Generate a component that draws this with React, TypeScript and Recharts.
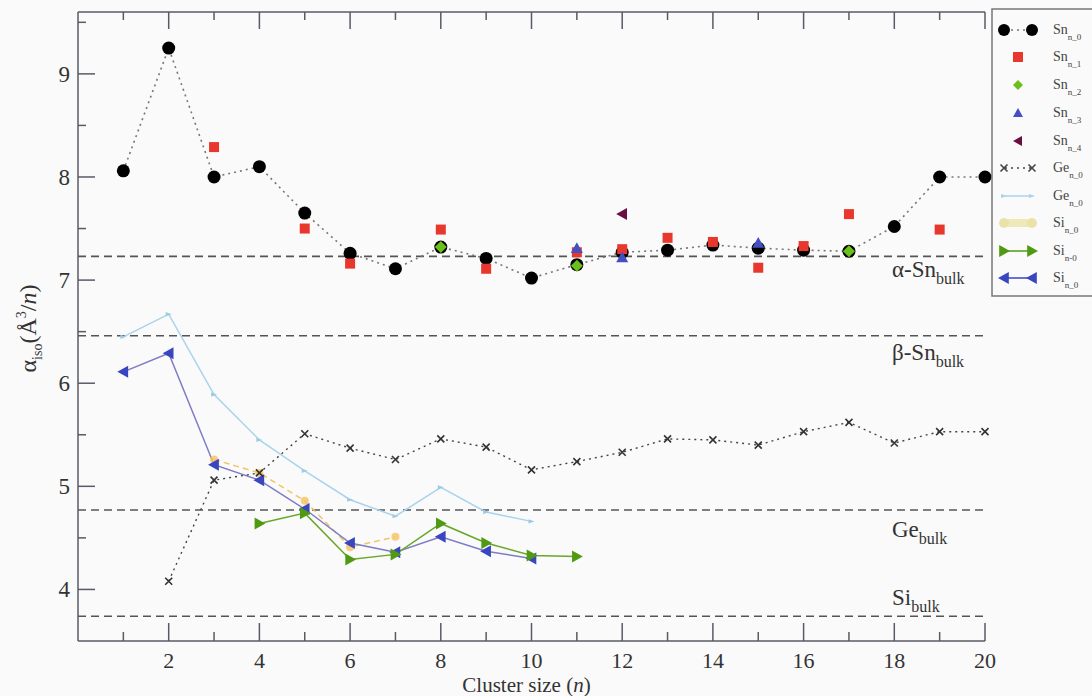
import React from "react";
import { ComposedChart, Line, XAxis, YAxis, ReferenceLine } from "recharts";

// cluster size n
const sizes = [1, 2, 3, 4, 5, 6, 7, 8, 9, 10, 11, 12, 13, 14, 15, 16, 17, 18, 19, 20];

// Sn isomers (polarizability per atom)
const snN0 = [8.06, 9.25, 8.0, 8.1, 7.65, 7.26, 7.11, 7.32, 7.21, 7.02, 7.15, 7.27, 7.29, 7.34, 7.31, 7.29, 7.28, 7.52, 8.0, 8.0];
const snN1 = [null, null, 8.29, null, 7.5, 7.16, null, 7.49, 7.11, null, 7.27, 7.3, 7.41, 7.37, 7.12, 7.33, 7.64, null, 7.49, null];
const snN2 = [null, null, null, null, null, null, null, 7.32, null, null, 7.14, null, null, null, null, null, 7.28, null, null, null];
const snN3 = [null, null, null, null, null, null, null, null, null, null, 7.31, 7.22, null, null, 7.36, null, null, null, null, null];
const snN4 = [null, null, null, null, null, null, null, null, null, null, null, 7.64, null, null, null, null, null, null, null, null];

// Ge clusters
const geCross = [null, 4.08, 5.06, 5.13, 5.51, 5.37, 5.26, 5.46, 5.38, 5.16, 5.24, 5.33, 5.46, 5.45, 5.4, 5.53, 5.62, 5.42, 5.53, 5.53];
const geLight = [6.45, 6.67, 5.89, 5.45, 5.15, 4.87, 4.71, 4.99, 4.75, 4.66, null, null, null, null, null, null, null, null, null, null];

// Si clusters
const siYellow = [null, null, 5.26, 5.13, 4.86, 4.41, 4.51, null, null, null, null, null, null, null, null, null, null, null, null, null];
const siGreen = [null, null, null, 4.64, 4.74, 4.29, 4.34, 4.64, 4.45, 4.33, 4.32, null, null, null, null, null, null, null, null, null];
const siBlue = [6.11, 6.29, 5.21, 5.06, 4.78, 4.45, 4.36, 4.51, 4.37, 4.3, null, null, null, null, null, null, null, null, null, null];

// bulk reference values
const bulkNames = ["α-Sn", "β-Sn", "Ge", "Si"];
const bulkValues = [7.23, 6.46, 4.77, 3.74];

const xTicks = [1, 2, 3, 4, 5, 6, 7, 8, 9, 10, 11, 12, 13, 14, 15, 16, 17, 18, 19, 20];
const yTicks = [3.5, 4, 4.5, 5, 5.5, 6, 6.5, 7, 7.5, 8, 8.5, 9, 9.5];

const table = sizes.map((n, i) => ({
  n,
  sn0: snN0[i],
  sn1: snN1[i],
  sn2: snN2[i],
  sn3: snN3[i],
  sn4: snN4[i],
  geX: geCross[i],
  geL: geLight[i],
  siY: siYellow[i],
  siG: siGreen[i],
  siB: siBlue[i],
}));

const FONT = "'Liberation Serif', 'DejaVu Serif', serif";
const AXIS = "#5a5a66";

function Marker({ kind, x, y, fill, s }: any) {
  switch (kind) {
    case "circle":
      return <circle cx={x} cy={y} r={s} fill={fill} />;
    case "square":
      return <rect x={x - s} y={y - s} width={2 * s} height={2 * s} fill={fill} />;
    case "diamond":
      return <polygon points={`${x},${y - s} ${x + s},${y} ${x},${y + s} ${x - s},${y}`} fill={fill} />;
    case "up":
      return <polygon points={`${x},${y - s} ${x + s},${y + s * 0.8} ${x - s},${y + s * 0.8}`} fill={fill} />;
    case "left":
      return <polygon points={`${x - s},${y} ${x + s * 0.8},${y - s} ${x + s * 0.8},${y + s}`} fill={fill} />;
    case "right":
      return <polygon points={`${x + s},${y} ${x - s * 0.8},${y - s} ${x - s * 0.8},${y + s}`} fill={fill} />;
    case "cross":
      return (
        <path d={`M${x - s},${y - s}L${x + s},${y + s}M${x - s},${y + s}L${x + s},${y - s}`} stroke={fill} strokeWidth={1.6} />
      );
    case "arrow":
      return <polygon points={`${x + s},${y} ${x - s},${y - s * 0.7} ${x - s},${y + s * 0.7}`} fill={fill} />;
    default:
      return null;
  }
}

const dotOf = (kind: string, fill: string, s: number, opacity = 1) => (p: any) => {
  const { cx, cy, value, index } = p;
  if (value == null || cx == null || cy == null) return <g key={`e${index}`} />;
  return (
    <g key={`d${index}`} opacity={opacity}>
      <Marker kind={kind} x={cx} y={cy} fill={fill} s={s} />
    </g>
  );
};

const XTickBottom = (p: any) => {
  const { x, y, payload } = p;
  const major = payload.value % 2 === 0;
  return (
    <g>
      <line x1={x} x2={x} y1={y} y2={y - (major ? 18 : 9)} stroke={AXIS} strokeWidth={1.5} />
      {major && (
        <text x={x} y={y + 27} textAnchor="middle" fontFamily={FONT} fontSize={22} fill="#333">
          {payload.value}
        </text>
      )}
    </g>
  );
};

const XTickTop = (p: any) => {
  const { x, y, payload } = p;
  const major = payload.value % 2 === 0;
  return <line x1={x} x2={x} y1={y} y2={y + (major ? 17 : 8)} stroke={AXIS} strokeWidth={1.5} />;
};

const YTickLeft = (p: any) => {
  const { x, y, payload } = p;
  const major = Number.isInteger(payload.value);
  if (payload.value < 3.9) return <g />;
  return (
    <g>
      <line x1={x} x2={x + (major ? 17 : 8)} y1={y} y2={y} stroke={AXIS} strokeWidth={1.5} />
      {major && (
        <text x={x - 8} y={y + 8} textAnchor="end" fontFamily={FONT} fontSize={23} fill="#333">
          {payload.value}
        </text>
      )}
    </g>
  );
};

const YTickRight = (p: any) => {
  const { x, y, payload } = p;
  const major = Number.isInteger(payload.value);
  if (payload.value < 3.9) return <g />;
  return <line x1={x} x2={x - (major ? 14 : 8)} y1={y} y2={y} stroke={AXIS} strokeWidth={1.5} />;
};

const bulkOffsets = [21, 24, 27, -11];

const BulkLabel = ({ viewBox, idx }: any) => {
  if (!viewBox) return null;
  const x = viewBox.x + viewBox.width - 93;
  const y = viewBox.y + bulkOffsets[idx];
  return (
    <text x={x} y={y} fontFamily={FONT} fontSize={23} fill="#333">
      {bulkNames[idx]}
      <tspan fontSize={16} dy={7}>bulk</tspan>
    </text>
  );
};

const YTitle = ({ viewBox }: any) => {
  if (!viewBox) return null;
  const cx = viewBox.x + 36;
  const cy = viewBox.y + viewBox.height / 2 + 2;
  return (
    <text
      x={cx}
      y={cy}
      transform={`rotate(-90 ${cx} ${cy})`}
      textAnchor="middle"
      fontFamily={FONT}
      fontSize={24}
      fill="#333"
    >
      α
      <tspan fontSize={14} dy={6}>iso</tspan>
      <tspan dy={-6}>(Å</tspan>
      <tspan fontSize={14} dy={-10}>3</tspan>
      <tspan dy={10}>/</tspan>
      <tspan fontStyle="italic">n</tspan>
      <tspan>)</tspan>
    </text>
  );
};

const XTitle = ({ viewBox }: any) => {
  if (!viewBox) return null;
  return (
    <text
      x={viewBox.x + viewBox.width / 2 - 5}
      y={viewBox.y + 51}
      textAnchor="middle"
      fontFamily={FONT}
      fontSize={21}
      fill="#333"
    >
      Cluster size (<tspan fontStyle="italic">n</tspan>)
    </text>
  );
};

// legend entries
const legendNames = ["Sn", "Sn", "Sn", "Sn", "Sn", "Ge", "Ge", "Si", "Si", "Si"];
const legendSubs = ["n_0", "n_1", "n_2", "n_3", "n_4", "n_0", "n_0", "n_0", "n-0", "n_0"];
const legendRows = [30, 57, 85, 113, 141, 168, 196, 223, 251, 278];

function LegendBox() {
  const sym = [
    { kind: "circle", fill: "#000", s: 6, line: "#777", dash: "2 4", both: true },
    { kind: "square", fill: "#e8382d", s: 5 },
    { kind: "diamond", fill: "#6cc01c", s: 5 },
    { kind: "up", fill: "#4350c0", s: 5 },
    { kind: "left", fill: "#6a1040", s: 5 },
    { kind: "cross", fill: "#444", s: 3.5, line: "#444", dash: "2 4", both: true },
    { kind: "arrow", fill: "#a9d3ec", s: 3, line: "#a9d3ec", both: true },
    { kind: "circle", fill: "#e9e3a8", s: 5, line: "#eee9b8", both: true, wide: true },
    { kind: "right", fill: "#4f9a12", s: 6, line: "#4f9a12", both: true },
    { kind: "left", fill: "#3a45c0", s: 6, line: "#3a45c0", both: true },
  ];
  return (
    <svg width={101} height={290} style={{ position: "absolute", left: 991, top: 8 }}>
      <rect x={1} y={1} width={104} height={287} fill="#fafafa" stroke="#777" strokeWidth={1.5} />
      {sym.map((m: any, i) => {
        const y = legendRows[i] - 8;
        return (
          <g key={i}>
            {m.line && (
              <line
                x1={14}
                x2={42}
                y1={y}
                y2={y}
                stroke={m.line}
                strokeWidth={m.wide ? 8 : 1.5}
                strokeDasharray={m.dash}
              />
            )}
            {m.both ? (
              <>
                <Marker kind={m.kind} x={13} y={y} fill={m.fill} s={m.s} />
                <Marker kind={m.kind} x={41} y={y} fill={m.fill} s={m.s} />
              </>
            ) : (
              <Marker kind={m.kind} x={27} y={y} fill={m.fill} s={m.s} />
            )}
            <text x={62} y={y + 4} fontFamily={FONT} fontSize={14} fill="#444">
              {legendNames[i]}
              <tspan fontSize={9} dy={6}>{legendSubs[i]}</tspan>
            </text>
          </g>
        );
      })}
    </svg>
  );
}

export default function App() {
  return (
    <div style={{ position: "absolute", left: 0, top: 0, width: 1092, height: 696, background: "#fafafa" }}>
      <ComposedChart width={1092} height={696} data={table} margin={{ top: 11, right: 107, bottom: 0, left: 0 }}>
        <XAxis
          xAxisId="b"
          dataKey="n"
          type="number"
          domain={[0, 20]}
          ticks={xTicks}
          interval={0}
          height={55}
          tickSize={0}
          tickMargin={0}
          tickLine={false}
          tick={<XTickBottom />}
          axisLine={{ stroke: AXIS, strokeWidth: 1.5 }}
          label={{ content: <XTitle /> }}
        />
        <XAxis
          xAxisId="t"
          orientation="top"
          dataKey="n"
          type="number"
          domain={[0, 20]}
          ticks={xTicks}
          interval={0}
          height={1}
          tickSize={0}
          tickMargin={0}
          tickLine={false}
          tick={<XTickTop />}
          axisLine={{ stroke: AXIS, strokeWidth: 1.5 }}
        />
        <YAxis
          yAxisId="l"
          type="number"
          domain={[3.5, 9.6]}
          ticks={yTicks}
          interval={0}
          width={78}
          tickSize={0}
          tickMargin={0}
          tickLine={false}
          tick={<YTickLeft />}
          axisLine={{ stroke: AXIS, strokeWidth: 1.5 }}
          label={{ content: <YTitle /> }}
        />
        <YAxis
          yAxisId="r"
          orientation="right"
          type="number"
          domain={[3.5, 9.6]}
          ticks={yTicks}
          interval={0}
          width={0}
          tickSize={0}
          tickMargin={0}
          tickLine={false}
          tick={<YTickRight />}
          axisLine={{ stroke: AXIS, strokeWidth: 1.5 }}
        />
        {bulkValues.map((v, i) => (
          <ReferenceLine
            key={bulkNames[i]}
            xAxisId="b"
            yAxisId="l"
            y={v}
            stroke="#555"
            strokeWidth={1.6}
            strokeDasharray="8 5"
            label={{ content: <BulkLabel idx={i} /> }}
          />
        ))}
        <Line xAxisId="b" yAxisId="l" dataKey="geL" stroke="#a9d3ec" strokeWidth={1.5}
          dot={dotOf("arrow", "#9ccbe6", 3)} isAnimationActive={false} />
        <Line xAxisId="b" yAxisId="l" dataKey="siY" stroke="#f3c467" strokeWidth={1.5} strokeDasharray="6 4"
          dot={dotOf("circle", "#f5c35f", 4, 0.8)} isAnimationActive={false} />
        <Line xAxisId="b" yAxisId="l" dataKey="siB" stroke="#7d7cc4" strokeWidth={1.5}
          dot={dotOf("left", "#3a45c0", 6)} isAnimationActive={false} />
        <Line xAxisId="b" yAxisId="l" dataKey="siG" stroke="#6aa62a" strokeWidth={1.5}
          dot={dotOf("right", "#4f9a12", 6)} isAnimationActive={false} />
        <Line xAxisId="b" yAxisId="l" dataKey="geX" stroke="#444" strokeWidth={1.4} strokeDasharray="2 4"
          dot={dotOf("cross", "#333", 3.5)} isAnimationActive={false} />
        <Line xAxisId="b" yAxisId="l" dataKey="sn0" stroke="#777" strokeWidth={1.6} strokeDasharray="2 4"
          dot={dotOf("circle", "#000", 6.5)} isAnimationActive={false} />
        <Line xAxisId="b" yAxisId="l" dataKey="sn1" stroke="none"
          dot={dotOf("square", "#e8382d", 5)} isAnimationActive={false} />
        <Line xAxisId="b" yAxisId="l" dataKey="sn2" stroke="none"
          dot={dotOf("diamond", "#6cc01c", 6)} isAnimationActive={false} />
        <Line xAxisId="b" yAxisId="l" dataKey="sn3" stroke="none"
          dot={dotOf("up", "#4350c0", 6)} isAnimationActive={false} />
        <Line xAxisId="b" yAxisId="l" dataKey="sn4" stroke="none"
          dot={dotOf("left", "#6a1040", 6)} isAnimationActive={false} />
      </ComposedChart>
      <LegendBox />
    </div>
  );
}
